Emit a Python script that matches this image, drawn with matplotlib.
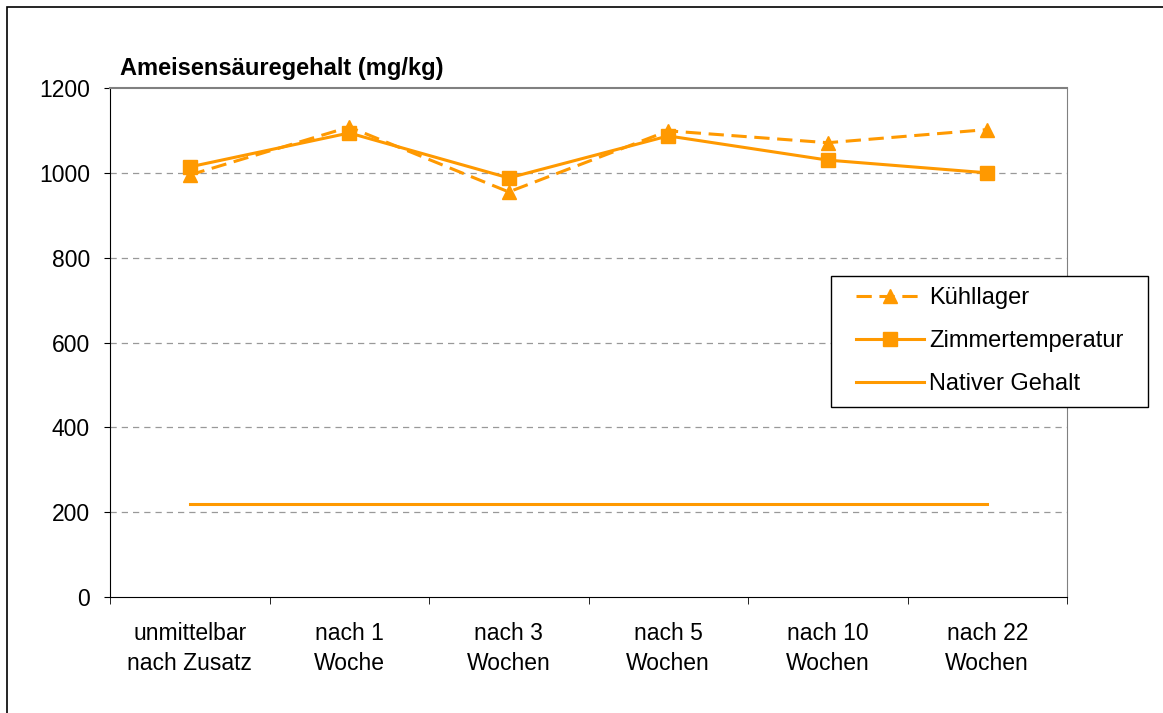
import matplotlib.pyplot as plt
import numpy as np
from matplotlib.patches import Rectangle

plt.rcParams['font.family'] = ['Liberation Sans', 'DejaVu Sans']

categories = ["unmittelbar\nnach Zusatz", "nach 1\nWoche", "nach 3\nWochen",
              "nach 5\nWochen", "nach 10\nWochen", "nach 22\nWochen"]
kuehllager = [995, 1108, 955, 1099, 1071, 1102]
zimmertemp = [1014, 1094, 988, 1087, 1030, 1000]
nativ = [219, 219, 219, 219, 219, 219]

orange = '#FF9900'
W, H = 1163, 713

fig = plt.figure(figsize=(11.63, 7.13), dpi=100)
ax = fig.add_axes([110/W, 1 - 597/H, 957/W, 509/H])

x = np.arange(len(categories))
ax.plot(x, kuehllager, color=orange, lw=2.2, ls=(0, (5, 2.5)), marker='^', ms=10,
        label='Kühllager')
ax.plot(x, zimmertemp, color=orange, lw=2.2, marker='s', ms=9.5, label='Zimmertemperatur')
ax.plot(x, nativ, color=orange, lw=2.2, label='Nativer Gehalt')

ax.set_xlim(-0.5, len(categories) - 0.5)
ax.set_ylim(0, 1200)
ax.set_yticks(range(0, 1201, 200))
ax.tick_params(axis='y', labelsize=16.5, length=4.5, direction='out', pad=10)
ax.set_xticks(x)
ax.set_xticklabels(categories, fontsize=16.5, linespacing=1.38)
ax.tick_params(axis='x', which='major', length=0, pad=18)
ax.set_xticks(np.arange(-0.5, len(categories), 1), minor=True)
ax.tick_params(axis='x', which='minor', length=5, direction='out')

for v in range(200, 1001, 200):
    ax.axhline(v, color='#999999', lw=0.9, ls=(0, (5, 4)), zorder=0)

ax.spines['left'].set_color('black')
ax.spines['bottom'].set_color('black')
ax.spines['top'].set_color('#808080')
ax.spines['right'].set_color('#808080')
ax.spines['top'].set_linewidth(1.5)

fig.text(120/W, 1 - 68/H, 'Ameisensäuregehalt (mg/kg)', fontsize=17,
         fontweight='bold', va='center', ha='left')

# legend frame drawn separately so its padding matches the original
ax.add_patch(Rectangle((831/W, 1 - 407/H), 317/W, 131/H,
                       transform=fig.transFigure, facecolor='white',
                       edgecolor='black', lw=1, zorder=4, clip_on=False))
leg = ax.legend(loc='upper left', bbox_to_anchor=(856/W, 1 - 287/H),
                bbox_transform=fig.transFigure, fontsize=17, frameon=False,
                handlelength=2.9, borderpad=0, labelspacing=0.9,
                handletextpad=0.2, borderaxespad=0)
leg.set_zorder(5)

fig.patches.append(Rectangle((7/W, -0.01), 1.02, 1 - 7/H + 0.01,
                             transform=fig.transFigure, fill=False,
                             edgecolor='black', lw=1.2))

fig.savefig('out.png', dpi=100)
